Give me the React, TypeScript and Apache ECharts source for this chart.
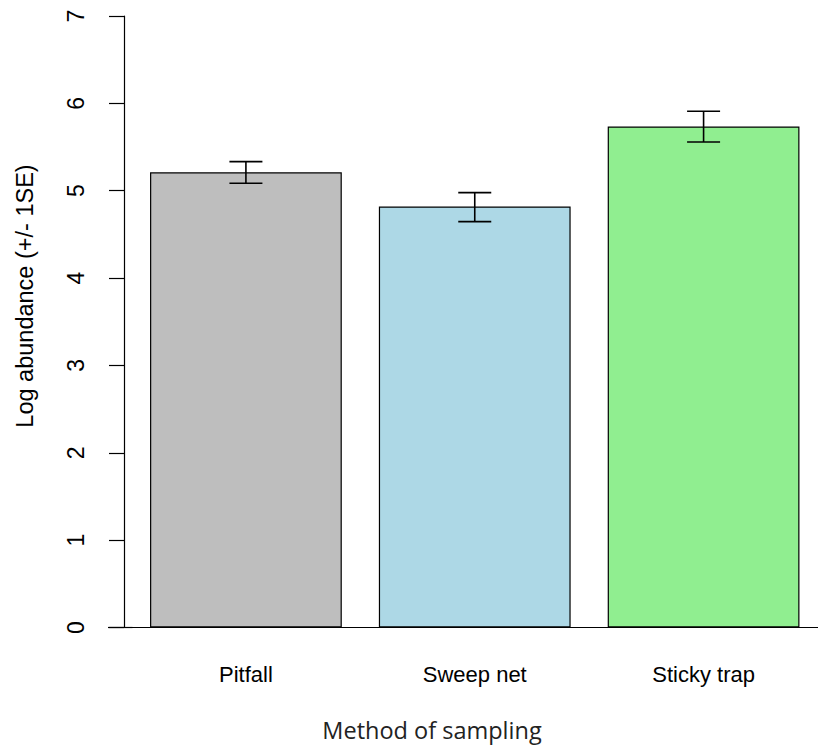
import React, { useEffect, useRef } from "react";
import * as echarts from "echarts";

const categories = ["Pitfall", "Sweep net", "Sticky trap"];
const means = [5.21, 4.82, 5.735];
const seLow = [5.085, 4.646, 5.558];
const seHigh = [5.333, 4.978, 5.909];
const barColors = ["#BEBEBE", "#ADD8E6", "#90EE90"];
const yTicks = [0, 1, 2, 3, 4, 5, 6, 7];

export default function App() {
  const ref = useRef<HTMLDivElement>(null);
  useEffect(() => {
    if (!ref.current) return;
    const chart = echarts.init(ref.current, null, { renderer: "svg" });
    const gridLeft = 131.5;
    const gridTop = 16;
    const gridBottom = 120.5;
    const option: any = {
      animation: false,
      backgroundColor: "#fff",
      grid: { left: gridLeft, right: -1, top: gridTop, bottom: gridBottom },
      xAxis: {
        type: "category",
        data: categories,
        axisLine: { show: true, lineStyle: { color: "#000", width: 1.2 } },
        axisTick: { show: false },
        axisLabel: {
          margin: 36,
          color: "#000",
          fontSize: 22,
          fontFamily: "Liberation Sans, Arial, sans-serif",
        },
      },
      yAxis: {
        type: "value",
        min: yTicks[0],
        max: yTicks[yTicks.length - 1],
        interval: 1,
        offset: 7.5,
        splitLine: { show: false },
        axisLine: { show: true, lineStyle: { color: "#000", width: 1.2 } },
        axisTick: { show: true, length: 15, lineStyle: { color: "#000", width: 1.2 } },
        axisLabel: {
          rotate: 90,
          margin: 37,
          color: "#000",
          fontSize: 23,
          fontFamily: "Liberation Sans, Arial, sans-serif",
        },
      },
      graphic: [
        {
          type: "line",
          shape: { x1: 108, y1: 748 - gridBottom, x2: gridLeft + 1, y2: 748 - gridBottom },
          style: { stroke: "#000", lineWidth: 1.2 },
          z: 10,
        },
        {
          type: "text",
          x: 25,
          y: 296,
          rotation: Math.PI / 2,
          style: {
            text: "Log abundance (+/- 1SE)",
            fontSize: 23.5,
            fontFamily: "Liberation Sans, Arial, sans-serif",
            fill: "#000",
            align: "center",
            verticalAlign: "middle",
          },
        },
        {
          type: "text",
          x: 432,
          y: 730,
          style: {
            text: "Method of sampling",
            fontSize: 23.5,
            fontFamily: "Open Sans, sans-serif",
            fill: "#222",
            align: "center",
            verticalAlign: "middle",
          },
        },
      ],
      series: [
        {
          type: "bar",
          barWidth: "83.8%",
          data: means.map((v, i) => ({
            value: v,
            itemStyle: { color: barColors[i], borderColor: "#000", borderWidth: 1.2 },
          })),
        },
        {
          type: "custom",
          data: categories.map((_, i) => [i, seLow[i], seHigh[i]]),
          z: 5,
          renderItem: (params: any, api: any) => {
            const x = api.value(0);
            const lo = api.coord([x, api.value(1)]);
            const hi = api.coord([x, api.value(2)]);
            const hw = 16.5;
            const style = { stroke: "#000", lineWidth: 1.6 };
            return {
              type: "group",
              children: [
                { type: "line", shape: { x1: lo[0], y1: lo[1], x2: hi[0], y2: hi[1] }, style },
                { type: "line", shape: { x1: lo[0] - hw, y1: lo[1], x2: lo[0] + hw, y2: lo[1] }, style },
                { type: "line", shape: { x1: hi[0] - hw, y1: hi[1], x2: hi[0] + hw, y2: hi[1] }, style },
              ],
            };
          },
        },
      ],
    };
    chart.setOption(option);
    return () => chart.dispose();
  }, []);
  return (
    <div
      ref={ref}
      style={{ position: "fixed", left: 0, top: 0, width: 818, height: 748, background: "#fff" }}
    />
  );
}
